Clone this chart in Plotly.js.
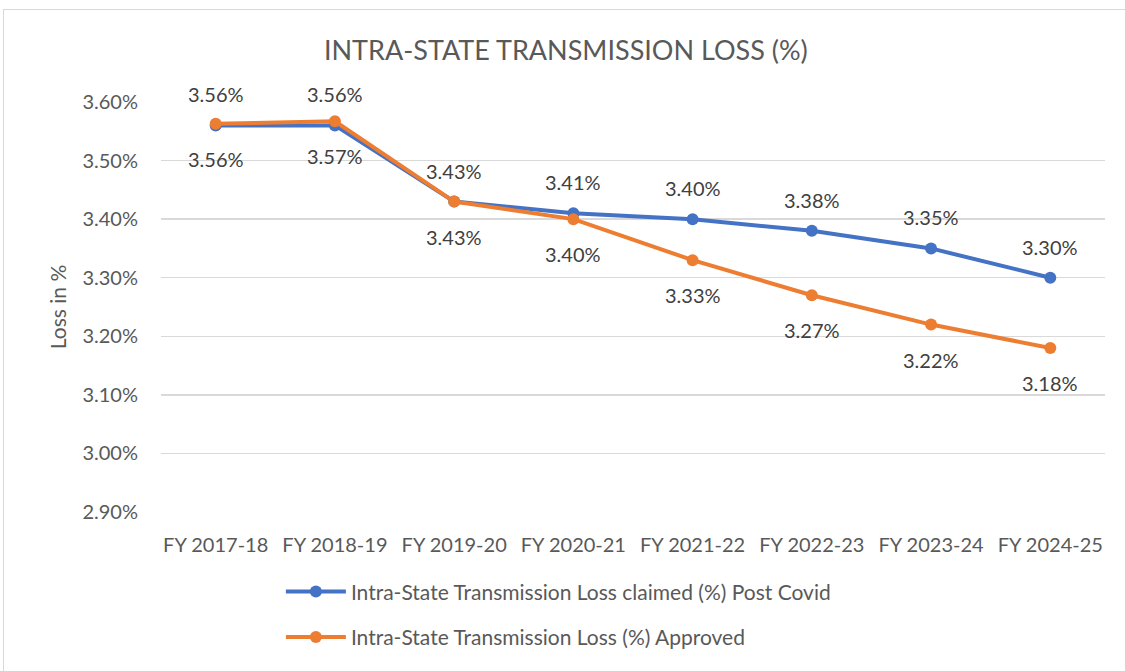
<!DOCTYPE html>
<html>
<head>
<meta charset="utf-8">
<script src="https://cdn.plot.ly/plotly-3.0.1.min.js"></script>
<style>
html,body{margin:0;padding:0;background:#fff;overflow:hidden;}
#frame{position:absolute;left:3px;top:9px;width:1140px;height:680px;border:1.5px solid #d9d9d9;box-sizing:border-box;}
#chart{position:absolute;left:0;top:0;width:1125px;height:671px;}
</style>
</head>
<body>
<div id="frame"></div>
<div id="chart"></div>
<script>
const categories = ["FY 2017-18","FY 2018-19","FY 2019-20","FY 2020-21","FY 2021-22","FY 2022-23","FY 2023-24","FY 2024-25"];
const claimedPostCovid = [3.56, 3.56, 3.43, 3.41, 3.40, 3.38, 3.35, 3.30];
const approved = [3.563, 3.567, 3.43, 3.40, 3.33, 3.27, 3.22, 3.18];
const seriesNames = ["Intra-State Transmission Loss claimed (%) Post Covid", "Intra-State Transmission Loss (%) Approved"];
const yTicks = [2.90, 3.00, 3.10, 3.20, 3.30, 3.40, 3.50, 3.60];

const FONT = "Lato, 'Open Sans', sans-serif";
const LABEL_FONT = {family: FONT, size: 20, color: "#404040"};

const traces = [
  {
    x: categories, y: claimedPostCovid, name: seriesNames[0], legendgroup: "a",
    type: "scatter", mode: "lines+markers",
    line: {color: "#4472c4", width: 4},
    marker: {color: "#4472c4", size: 12},
    cliponaxis: false
  },
  {
    x: categories, y: approved, name: seriesNames[1], legendgroup: "b",
    type: "scatter", mode: "lines+markers",
    line: {color: "#ed7d31", width: 4},
    marker: {color: "#ed7d31", size: 12},
    cliponaxis: false
  }
];

const annotations = [];
categories.forEach((c, i) => {
  annotations.push({x: c, y: claimedPostCovid[i], xref: "x", yref: "y", text: claimedPostCovid[i].toFixed(2) + "%",
    showarrow: false, yshift: 31, font: LABEL_FONT});
  annotations.push({x: c, y: approved[i], xref: "x", yref: "y", text: approved[i].toFixed(2) + "%",
    showarrow: false, yshift: -35, font: LABEL_FONT});
});

const layout = {
  width: 1125, height: 671,
  paper_bgcolor: "rgba(0,0,0,0)", plot_bgcolor: "rgba(0,0,0,0)",
  margin: {l: 161, r: 20, t: 102, b: 159},
  font: {family: FONT, color: "#595959"},
  title: {text: "INTRA-STATE TRANSMISSION LOSS (%)", x: 0.503, xanchor: "center", y: 0.925, yanchor: "middle",
          font: {family: FONT, size: 27, color: "#595959"}},
  xaxis: {
    type: "category", showgrid: false, zeroline: false, showline: false,
    ticks: "", tickfont: {family: FONT, size: 20, color: "#595959"}, ticklabelstandoff: 19
  },
  yaxis: {
    range: [2.90, 3.60], tickvals: yTicks, ticktext: yTicks.map(v => v.toFixed(2) + "%"),
    showgrid: true, gridcolor: "#d9d9d9", gridwidth: 1.5, zeroline: false, showline: false,
    tickfont: {family: FONT, size: 20, color: "#595959"}, ticks: "", ticklabelstandoff: 22,
    title: {text: "Loss in %", font: {family: FONT, size: 21, color: "#595959"}, standoff: 10}
  },
  annotations: annotations,
  showlegend: true,
  legend: {
    orientation: "v", x: 0.127, xanchor: "left", y: -0.145, yanchor: "top",
    font: {family: FONT, size: 21, color: "#595959"},
    itemwidth: 60, tracegroupgap: 15, bgcolor: "rgba(0,0,0,0)"
  }
};

Plotly.newPlot("chart", traces, layout, {displayModeBar: false, staticPlot: true});
</script>
</body>
</html>
